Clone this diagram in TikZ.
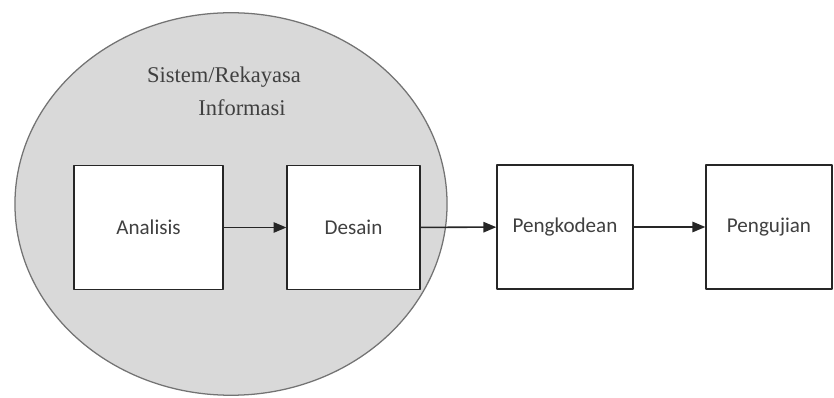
\documentclass[tikz,border=0pt]{standalone}
\usepackage{fontspec}
\usepackage{tikz}
\usetikzlibrary{arrows}
\newfontfamily\boxfont{Carlito}
\newfontfamily\titlefont{Liberation Serif}
\definecolor{ellgray}{rgb}{0.85,0.85,0.85}
\definecolor{ellline}{rgb}{0.45,0.45,0.45}
\definecolor{txtgray}{rgb}{0.25,0.25,0.25}
\tikzset{
  phase/.style={draw=black!85,fill=white,line width=1.1pt,minimum height=3.1cm,inner sep=0pt,
    font=\boxfont\fontsize{15}{18}\selectfont,text=txtgray},
  flow/.style={->,line width=1.1pt,draw=black!85}
}
\begin{document}
\begin{tikzpicture}[line cap=round,line join=round,>=triangle 45,x=0.025cm,y=-0.025cm]
\useasboundingbox (0,0) rectangle (834,398);
\fill[color=ellline,fill=ellgray,line width=0.9pt] (231,204) ellipse [x radius=5.4cm,y radius=4.78cm];
\draw[color=ellline,line width=0.9pt] (231,204) ellipse [x radius=5.4cm,y radius=4.78cm];
\node[font=\titlefont\fontsize{16}{20}\selectfont,text=txtgray] (title1) at (224,77) {Sistem/Rekayasa};
\node[font=\titlefont\fontsize{16}{20}\selectfont,text=txtgray] (title2) at (242,108) {Informasi};
\node[phase,minimum width=3.72cm] (analisis) at (148.5,227.5) {Analisis};
\node[phase,minimum width=3.32cm] (desain) at (353.5,227.5) {Desain};
\node[phase,minimum width=3.4cm] (pengkodean) at (565,227) {Pengkodean};
\node[phase,minimum width=3.15cm] (pengujian) at (769,227) {Pengujian};
\draw[flow] (analisis) -- (desain);
\draw[flow] (desain) -- (pengkodean);
\draw[flow] (pengkodean) -- (pengujian);
\end{tikzpicture}
\end{document}
